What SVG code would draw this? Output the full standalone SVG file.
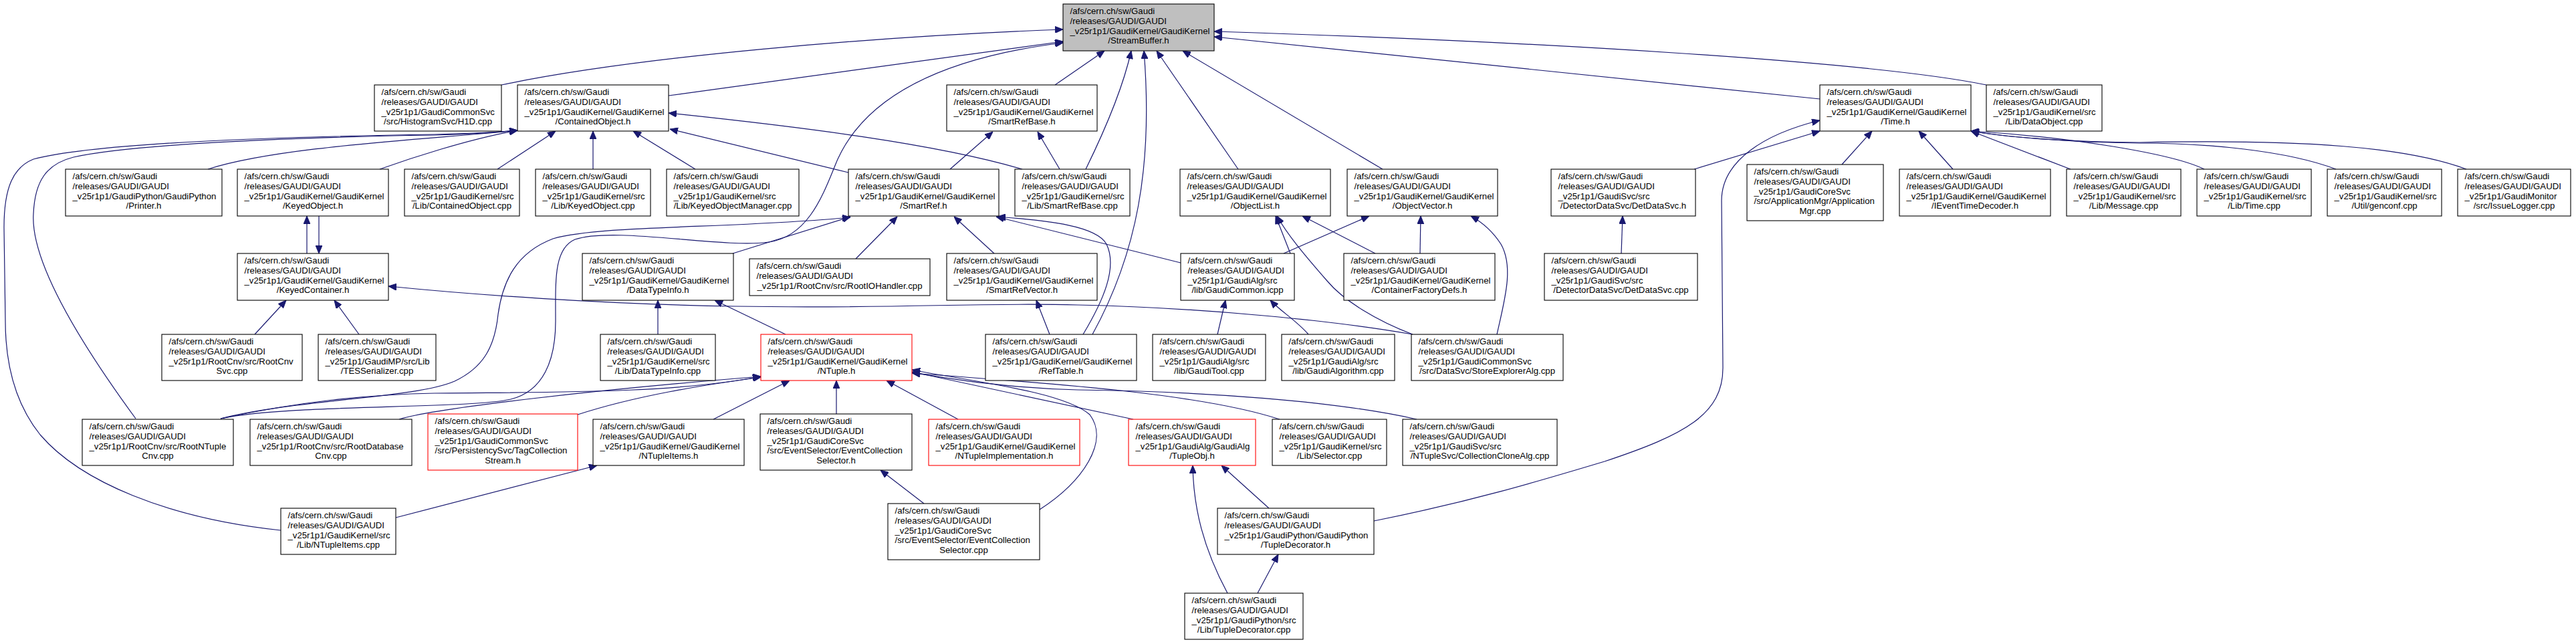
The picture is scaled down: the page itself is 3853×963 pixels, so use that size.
<svg xmlns="http://www.w3.org/2000/svg" width="3853" height="963" viewBox="0 0 3853 963">
<defs>
<style>
.box{fill:#ffffff;stroke:#000000;stroke-width:1.1}
.gray{fill:#bfbfbf}
.red{stroke:#ff0000}
text{font-family:"Liberation Sans",Arial,Helvetica,sans-serif;font-size:13.2px;fill:#000000}
text.c{text-anchor:middle}
.e path{fill:none;stroke:#191970;stroke-width:1.2;marker-end:url(#a)}
</style>
<marker id="a" viewBox="0 0 12 10" markerWidth="12" markerHeight="10" refX="12" refY="5" orient="auto" markerUnits="userSpaceOnUse">
<path d="M0,0L12,5L0,10Z" fill="#191970" stroke="#191970" stroke-width="1"/>
</marker>
</defs>
<rect x="0" y="0" width="3853" height="963" fill="#ffffff"/>

<g id="edges" class="e">
<path d="M750,127 C950,85 1300,55 1590,44"/>
<path d="M1000,143 L1590,62"/>
<path d="M330,626 C430,604 700,612 764,597 C812,585 831,540 831,480 C831,420 828,372 860,358 C920,338 1080,372 1150,362 C1205,354 1228,300 1248,250 C1290,140 1420,85 1590,64"/>
<path d="M1578,127 L1652,76"/>
<path d="M1624,253 C1650,200 1680,130 1692,76"/>
<path d="M1634,500 C1700,380 1725,250 1711,76"/>
<path d="M1852,253 L1730,76"/>
<path d="M2068,253 L1769,76"/>
<path d="M2971,127 C2800,92 2300,62 1816,47"/>
<path d="M2722,148 L1816,55"/>
<path d="M311,253 C420,218 650,208 774,195"/>
<path d="M568,253 C610,238 700,208 774,195"/>
<path d="M203,626 C140,540 45,400 50,320 C52,270 70,245 110,235 C200,215 450,205 650,202 C700,201 740,198 774,195"/>
<path d="M420,793 C250,775 120,720 60,650 C20,600 8,540 8,480 L6,340 C6,280 20,250 50,238 C150,212 450,204 650,201 C700,200 740,198 774,195"/>
<path d="M744,253 L831,196"/>
<path d="M887,253 L887,196"/>
<path d="M1040,253 L947,196"/>
<path d="M1529,253 C1400,215 1200,190 1000,169"/>
<path d="M1269,258 L1002,193"/>
<path d="M1421,253 L1485,197"/>
<path d="M1585,253 L1552,197"/>
<path d="M1096,379 L1272,324"/>
<path d="M330,626 C450,596 620,596 680,570 C722,550 740,520 745,470 C752,420 772,378 827,357 C900,336 1100,342 1272,325"/>
<path d="M1280,387 L1342,324"/>
<path d="M1487,379 L1427,324"/>
<path d="M1766,393 L1490,324"/>
<path d="M1620,500 C1650,450 1672,400 1655,365 C1640,338 1570,330 1492,324"/>
<path d="M1570,500 L1550,449"/>
<path d="M984,500 L984,449"/>
<path d="M1175,500 L1069,449"/>
<path d="M459,379 L459,323"/>
<path d="M477,323 L477,379"/>
<path d="M381,500 L428,449"/>
<path d="M537,500 L500,449"/>
<path d="M2113,500 C2000,480 1800,460 1612,456 C1450,452 1350,462 1100,458 C900,455 700,440 581,428"/>
<path d="M2057,379 L1948,323"/>
<path d="M1930,379 L1908,323"/>
<path d="M2113,500 C2060,480 2010,450 1985,420 C1950,380 1925,350 1910,323"/>
<path d="M1920,379 L2048,323"/>
<path d="M2124,379 L2125,323"/>
<path d="M2239,500 C2250,450 2265,400 2245,365 C2232,345 2218,333 2200,323"/>
<path d="M1821,500 L1833,449"/>
<path d="M1957,500 C1940,480 1915,465 1900,449"/>
<path d="M330,626 C450,600 550,590 650,588 C800,586 1000,590 1138,563"/>
<path d="M597,627 C650,610 900,582 1138,563"/>
<path d="M864,620 C950,592 1050,576 1138,564"/>
<path d="M1067,627 L1181,569"/>
<path d="M1251,619 L1251,569"/>
<path d="M1433,627 L1326,569"/>
<path d="M1555,762 C1620,720 1660,660 1630,620 C1590,585 1450,570 1364,553"/>
<path d="M1695,627 L1364,556"/>
<path d="M1914,627 C1800,590 1600,575 1364,558"/>
<path d="M2119,627 C2000,600 1800,585 1612,583 C1500,580 1420,566 1364,557"/>
<path d="M592,774 L893,696"/>
<path d="M1382,753 L1317,703"/>
<path d="M1836,887 C1800,820 1785,760 1784,696"/>
<path d="M1898,760 L1827,696"/>
<path d="M1881,887 L1912,829"/>
<path d="M2055,779 C2200,750 2300,720 2400,690 C2520,650 2577,620 2577,550 L2575,300 C2575,240 2640,200 2722,180"/>
<path d="M2534,253 L2722,196"/>
<path d="M2755,246 L2800,196"/>
<path d="M2921,253 L2870,196"/>
<path d="M3097,253 L2948,196"/>
<path d="M3297,253 C3250,230 3100,205 2948,196"/>
<path d="M3494,253 C3420,225 3300,214 3200,214 C3100,213 3000,205 2948,196"/>
<path d="M3689,253 C3600,220 3450,208 3200,213 C3100,213 3000,205 2948,196"/>
<path d="M2425,379 L2427,323"/>
</g>

<g id="n_StreamBuffer_h"><rect class="box gray" x="1590" y="6" width="226" height="70"/>
<text x="1600.5" y="21.3">/afs/cern.ch/sw/Gaudi</text><text x="1600.5" y="36">/releases/GAUDI/GAUDI</text><text x="1600.5" y="50.7">_v25r1p1/GaudiKernel/GaudiKernel</text><text class="c" x="1703" y="65.4">/StreamBuffer.h</text></g>

<g id="n_H1D_cpp"><rect class="box" x="560" y="127" width="190" height="69"/>
<text x="570.5" y="142.3">/afs/cern.ch/sw/Gaudi</text><text x="570.5" y="157">/releases/GAUDI/GAUDI</text><text x="570.5" y="171.7">_v25r1p1/GaudiCommonSvc</text><text class="c" x="655" y="186.4">/src/HistogramSvc/H1D.cpp</text></g>

<g id="n_ContainedObject_h"><rect class="box" x="774" y="127" width="226" height="69"/>
<text x="784.5" y="142.3">/afs/cern.ch/sw/Gaudi</text><text x="784.5" y="157">/releases/GAUDI/GAUDI</text><text x="784.5" y="171.7">_v25r1p1/GaudiKernel/GaudiKernel</text><text class="c" x="887" y="186.4">/ContainedObject.h</text></g>

<g id="n_SmartRefBase_h"><rect class="box" x="1416" y="127" width="225" height="69"/>
<text x="1426.5" y="142.3">/afs/cern.ch/sw/Gaudi</text><text x="1426.5" y="157">/releases/GAUDI/GAUDI</text><text x="1426.5" y="171.7">_v25r1p1/GaudiKernel/GaudiKernel</text><text class="c" x="1528.5" y="186.4">/SmartRefBase.h</text></g>

<g id="n_Time_h"><rect class="box" x="2722" y="127" width="226" height="69"/>
<text x="2732.5" y="142.3">/afs/cern.ch/sw/Gaudi</text><text x="2732.5" y="157">/releases/GAUDI/GAUDI</text><text x="2732.5" y="171.7">_v25r1p1/GaudiKernel/GaudiKernel</text><text class="c" x="2835" y="186.4">/Time.h</text></g>

<g id="n_DataObject_cpp"><rect class="box" x="2971" y="127" width="173" height="69"/>
<text x="2981.5" y="142.3">/afs/cern.ch/sw/Gaudi</text><text x="2981.5" y="157">/releases/GAUDI/GAUDI</text><text x="2981.5" y="171.7">_v25r1p1/GaudiKernel/src</text><text class="c" x="3057.5" y="186.4">/Lib/DataObject.cpp</text></g>

<g id="n_Printer_h"><rect class="box" x="98" y="253" width="234" height="70"/>
<text x="108.5" y="268.3">/afs/cern.ch/sw/Gaudi</text><text x="108.5" y="283">/releases/GAUDI/GAUDI</text><text x="108.5" y="297.7">_v25r1p1/GaudiPython/GaudiPython</text><text class="c" x="215" y="312.4">/Printer.h</text></g>

<g id="n_KeyedObject_h"><rect class="box" x="355" y="253" width="226" height="70"/>
<text x="365.5" y="268.3">/afs/cern.ch/sw/Gaudi</text><text x="365.5" y="283">/releases/GAUDI/GAUDI</text><text x="365.5" y="297.7">_v25r1p1/GaudiKernel/GaudiKernel</text><text class="c" x="468" y="312.4">/KeyedObject.h</text></g>

<g id="n_ContainedObject_cpp"><rect class="box" x="605" y="253" width="172" height="70"/>
<text x="615.5" y="268.3">/afs/cern.ch/sw/Gaudi</text><text x="615.5" y="283">/releases/GAUDI/GAUDI</text><text x="615.5" y="297.7">_v25r1p1/GaudiKernel/src</text><text class="c" x="691" y="312.4">/Lib/ContainedObject.cpp</text></g>

<g id="n_KeyedObject_cpp"><rect class="box" x="801" y="253" width="172" height="70"/>
<text x="811.5" y="268.3">/afs/cern.ch/sw/Gaudi</text><text x="811.5" y="283">/releases/GAUDI/GAUDI</text><text x="811.5" y="297.7">_v25r1p1/GaudiKernel/src</text><text class="c" x="887" y="312.4">/Lib/KeyedObject.cpp</text></g>

<g id="n_KeyedObjectManager_cpp"><rect class="box" x="997" y="253" width="198" height="70"/>
<text x="1007.5" y="268.3">/afs/cern.ch/sw/Gaudi</text><text x="1007.5" y="283">/releases/GAUDI/GAUDI</text><text x="1007.5" y="297.7">_v25r1p1/GaudiKernel/src</text><text class="c" x="1096" y="312.4">/Lib/KeyedObjectManager.cpp</text></g>

<g id="n_SmartRef_h"><rect class="box" x="1269" y="253" width="225" height="70"/>
<text x="1279.5" y="268.3">/afs/cern.ch/sw/Gaudi</text><text x="1279.5" y="283">/releases/GAUDI/GAUDI</text><text x="1279.5" y="297.7">_v25r1p1/GaudiKernel/GaudiKernel</text><text class="c" x="1381.5" y="312.4">/SmartRef.h</text></g>

<g id="n_SmartRefBase_cpp"><rect class="box" x="1518" y="253" width="172" height="70"/>
<text x="1528.5" y="268.3">/afs/cern.ch/sw/Gaudi</text><text x="1528.5" y="283">/releases/GAUDI/GAUDI</text><text x="1528.5" y="297.7">_v25r1p1/GaudiKernel/src</text><text class="c" x="1604" y="312.4">/Lib/SmartRefBase.cpp</text></g>

<g id="n_ObjectList_h"><rect class="box" x="1765" y="253" width="225" height="70"/>
<text x="1775.5" y="268.3">/afs/cern.ch/sw/Gaudi</text><text x="1775.5" y="283">/releases/GAUDI/GAUDI</text><text x="1775.5" y="297.7">_v25r1p1/GaudiKernel/GaudiKernel</text><text class="c" x="1877.5" y="312.4">/ObjectList.h</text></g>

<g id="n_ObjectVector_h"><rect class="box" x="2015" y="253" width="225" height="70"/>
<text x="2025.5" y="268.3">/afs/cern.ch/sw/Gaudi</text><text x="2025.5" y="283">/releases/GAUDI/GAUDI</text><text x="2025.5" y="297.7">_v25r1p1/GaudiKernel/GaudiKernel</text><text class="c" x="2127.5" y="312.4">/ObjectVector.h</text></g>

<g id="n_DetDataSvc_h"><rect class="box" x="2320" y="253" width="216" height="70"/>
<text x="2330.5" y="268.3">/afs/cern.ch/sw/Gaudi</text><text x="2330.5" y="283">/releases/GAUDI/GAUDI</text><text x="2330.5" y="297.7">_v25r1p1/GaudiSvc/src</text><text class="c" x="2428" y="312.4">/DetectorDataSvc/DetDataSvc.h</text></g>

<g id="n_ApplicationMgr_cpp"><rect class="box" x="2613" y="246" width="204" height="84"/>
<text x="2623.5" y="261.3">/afs/cern.ch/sw/Gaudi</text><text x="2623.5" y="276">/releases/GAUDI/GAUDI</text><text x="2623.5" y="290.7">_v25r1p1/GaudiCoreSvc</text><text x="2623.5" y="305.4">/src/ApplicationMgr/Application</text><text class="c" x="2715" y="320.1">Mgr.cpp</text></g>

<g id="n_IEventTimeDecoder_h"><rect class="box" x="2841" y="253" width="226" height="70"/>
<text x="2851.5" y="268.3">/afs/cern.ch/sw/Gaudi</text><text x="2851.5" y="283">/releases/GAUDI/GAUDI</text><text x="2851.5" y="297.7">_v25r1p1/GaudiKernel/GaudiKernel</text><text class="c" x="2954" y="312.4">/IEventTimeDecoder.h</text></g>

<g id="n_Message_cpp"><rect class="box" x="3091" y="253" width="171" height="70"/>
<text x="3101.5" y="268.3">/afs/cern.ch/sw/Gaudi</text><text x="3101.5" y="283">/releases/GAUDI/GAUDI</text><text x="3101.5" y="297.7">_v25r1p1/GaudiKernel/src</text><text class="c" x="3176.5" y="312.4">/Lib/Message.cpp</text></g>

<g id="n_Time_cpp"><rect class="box" x="3286" y="253" width="171" height="70"/>
<text x="3296.5" y="268.3">/afs/cern.ch/sw/Gaudi</text><text x="3296.5" y="283">/releases/GAUDI/GAUDI</text><text x="3296.5" y="297.7">_v25r1p1/GaudiKernel/src</text><text class="c" x="3371.5" y="312.4">/Lib/Time.cpp</text></g>

<g id="n_genconf_cpp"><rect class="box" x="3481" y="253" width="171" height="70"/>
<text x="3491.5" y="268.3">/afs/cern.ch/sw/Gaudi</text><text x="3491.5" y="283">/releases/GAUDI/GAUDI</text><text x="3491.5" y="297.7">_v25r1p1/GaudiKernel/src</text><text class="c" x="3566.5" y="312.4">/Util/genconf.cpp</text></g>

<g id="n_IssueLogger_cpp"><rect class="box" x="3676" y="253" width="169" height="70"/>
<text x="3686.5" y="268.3">/afs/cern.ch/sw/Gaudi</text><text x="3686.5" y="283">/releases/GAUDI/GAUDI</text><text x="3686.5" y="297.7">_v25r1p1/GaudiMonitor</text><text class="c" x="3760.5" y="312.4">/src/IssueLogger.cpp</text></g>

<g id="n_KeyedContainer_h"><rect class="box" x="355" y="379" width="226" height="70"/>
<text x="365.5" y="394.3">/afs/cern.ch/sw/Gaudi</text><text x="365.5" y="409">/releases/GAUDI/GAUDI</text><text x="365.5" y="423.7">_v25r1p1/GaudiKernel/GaudiKernel</text><text class="c" x="468" y="438.4">/KeyedContainer.h</text></g>

<g id="n_DataTypeInfo_h"><rect class="box" x="871" y="379" width="226" height="70"/>
<text x="881.5" y="394.3">/afs/cern.ch/sw/Gaudi</text><text x="881.5" y="409">/releases/GAUDI/GAUDI</text><text x="881.5" y="423.7">_v25r1p1/GaudiKernel/GaudiKernel</text><text class="c" x="984" y="438.4">/DataTypeInfo.h</text></g>

<g id="n_RootIOHandler_cpp"><rect class="box" x="1121" y="387" width="270" height="55"/>
<text x="1131.5" y="402.3">/afs/cern.ch/sw/Gaudi</text><text x="1131.5" y="417">/releases/GAUDI/GAUDI</text><text class="c" x="1256" y="431.7">_v25r1p1/RootCnv/src/RootIOHandler.cpp</text></g>

<g id="n_SmartRefVector_h"><rect class="box" x="1416" y="379" width="225" height="70"/>
<text x="1426.5" y="394.3">/afs/cern.ch/sw/Gaudi</text><text x="1426.5" y="409">/releases/GAUDI/GAUDI</text><text x="1426.5" y="423.7">_v25r1p1/GaudiKernel/GaudiKernel</text><text class="c" x="1528.5" y="438.4">/SmartRefVector.h</text></g>

<g id="n_GaudiCommon_icpp"><rect class="box" x="1766" y="379" width="170" height="70"/>
<text x="1776.5" y="394.3">/afs/cern.ch/sw/Gaudi</text><text x="1776.5" y="409">/releases/GAUDI/GAUDI</text><text x="1776.5" y="423.7">_v25r1p1/GaudiAlg/src</text><text class="c" x="1851" y="438.4">/lib/GaudiCommon.icpp</text></g>

<g id="n_ContainerFactoryDefs_h"><rect class="box" x="2010" y="379" width="226" height="70"/>
<text x="2020.5" y="394.3">/afs/cern.ch/sw/Gaudi</text><text x="2020.5" y="409">/releases/GAUDI/GAUDI</text><text x="2020.5" y="423.7">_v25r1p1/GaudiKernel/GaudiKernel</text><text class="c" x="2123" y="438.4">/ContainerFactoryDefs.h</text></g>

<g id="n_DetDataSvc_cpp"><rect class="box" x="2310" y="379" width="229" height="70"/>
<text x="2320.5" y="394.3">/afs/cern.ch/sw/Gaudi</text><text x="2320.5" y="409">/releases/GAUDI/GAUDI</text><text x="2320.5" y="423.7">_v25r1p1/GaudiSvc/src</text><text class="c" x="2424.5" y="438.4">/DetectorDataSvc/DetDataSvc.cpp</text></g>

<g id="n_RootCnvSvc_cpp"><rect class="box" x="242" y="500" width="210" height="69"/>
<text x="252.5" y="515.3">/afs/cern.ch/sw/Gaudi</text><text x="252.5" y="530">/releases/GAUDI/GAUDI</text><text x="252.5" y="544.7">_v25r1p1/RootCnv/src/RootCnv</text><text class="c" x="347" y="559.4">Svc.cpp</text></g>

<g id="n_TESSerializer_cpp"><rect class="box" x="476" y="500" width="176" height="69"/>
<text x="486.5" y="515.3">/afs/cern.ch/sw/Gaudi</text><text x="486.5" y="530">/releases/GAUDI/GAUDI</text><text x="486.5" y="544.7">_v25r1p1/GaudiMP/src/Lib</text><text class="c" x="564" y="559.4">/TESSerializer.cpp</text></g>

<g id="n_DataTypeInfo_cpp"><rect class="box" x="898" y="500" width="172" height="69"/>
<text x="908.5" y="515.3">/afs/cern.ch/sw/Gaudi</text><text x="908.5" y="530">/releases/GAUDI/GAUDI</text><text x="908.5" y="544.7">_v25r1p1/GaudiKernel/src</text><text class="c" x="984" y="559.4">/Lib/DataTypeInfo.cpp</text></g>

<g id="n_NTuple_h"><rect class="box red" x="1138" y="500" width="226" height="69"/>
<text x="1148.5" y="515.3">/afs/cern.ch/sw/Gaudi</text><text x="1148.5" y="530">/releases/GAUDI/GAUDI</text><text x="1148.5" y="544.7">_v25r1p1/GaudiKernel/GaudiKernel</text><text class="c" x="1251" y="559.4">/NTuple.h</text></g>

<g id="n_RefTable_h"><rect class="box" x="1474" y="500" width="226" height="69"/>
<text x="1484.5" y="515.3">/afs/cern.ch/sw/Gaudi</text><text x="1484.5" y="530">/releases/GAUDI/GAUDI</text><text x="1484.5" y="544.7">_v25r1p1/GaudiKernel/GaudiKernel</text><text class="c" x="1587" y="559.4">/RefTable.h</text></g>

<g id="n_GaudiTool_cpp"><rect class="box" x="1724" y="500" width="169" height="69"/>
<text x="1734.5" y="515.3">/afs/cern.ch/sw/Gaudi</text><text x="1734.5" y="530">/releases/GAUDI/GAUDI</text><text x="1734.5" y="544.7">_v25r1p1/GaudiAlg/src</text><text class="c" x="1808.5" y="559.4">/lib/GaudiTool.cpp</text></g>

<g id="n_GaudiAlgorithm_cpp"><rect class="box" x="1917" y="500" width="169" height="69"/>
<text x="1927.5" y="515.3">/afs/cern.ch/sw/Gaudi</text><text x="1927.5" y="530">/releases/GAUDI/GAUDI</text><text x="1927.5" y="544.7">_v25r1p1/GaudiAlg/src</text><text class="c" x="2001.5" y="559.4">/lib/GaudiAlgorithm.cpp</text></g>

<g id="n_StoreExplorerAlg_cpp"><rect class="box" x="2111" y="500" width="227" height="69"/>
<text x="2121.5" y="515.3">/afs/cern.ch/sw/Gaudi</text><text x="2121.5" y="530">/releases/GAUDI/GAUDI</text><text x="2121.5" y="544.7">_v25r1p1/GaudiCommonSvc</text><text class="c" x="2224.5" y="559.4">/src/DataSvc/StoreExplorerAlg.cpp</text></g>

<g id="n_RootNTupleCnv_cpp"><rect class="box" x="123" y="627" width="226" height="69"/>
<text x="133.5" y="642.3">/afs/cern.ch/sw/Gaudi</text><text x="133.5" y="657">/releases/GAUDI/GAUDI</text><text x="133.5" y="671.7">_v25r1p1/RootCnv/src/RootNTuple</text><text class="c" x="236" y="686.4">Cnv.cpp</text></g>

<g id="n_RootDatabaseCnv_cpp"><rect class="box" x="374" y="627" width="242" height="69"/>
<text x="384.5" y="642.3">/afs/cern.ch/sw/Gaudi</text><text x="384.5" y="657">/releases/GAUDI/GAUDI</text><text x="384.5" y="671.7">_v25r1p1/RootCnv/src/RootDatabase</text><text class="c" x="495" y="686.4">Cnv.cpp</text></g>

<g id="n_TagCollectionStream_h"><rect class="box red" x="640" y="619" width="224" height="84"/>
<text x="650.5" y="634.3">/afs/cern.ch/sw/Gaudi</text><text x="650.5" y="649">/releases/GAUDI/GAUDI</text><text x="650.5" y="663.7">_v25r1p1/GaudiCommonSvc</text><text x="650.5" y="678.4">/src/PersistencySvc/TagCollection</text><text class="c" x="752" y="693.1">Stream.h</text></g>

<g id="n_NTupleItems_h"><rect class="box" x="887" y="627" width="226" height="69"/>
<text x="897.5" y="642.3">/afs/cern.ch/sw/Gaudi</text><text x="897.5" y="657">/releases/GAUDI/GAUDI</text><text x="897.5" y="671.7">_v25r1p1/GaudiKernel/GaudiKernel</text><text class="c" x="1000" y="686.4">/NTupleItems.h</text></g>

<g id="n_EventCollectionSelector_h"><rect class="box" x="1137" y="619" width="227" height="84"/>
<text x="1147.5" y="634.3">/afs/cern.ch/sw/Gaudi</text><text x="1147.5" y="649">/releases/GAUDI/GAUDI</text><text x="1147.5" y="663.7">_v25r1p1/GaudiCoreSvc</text><text x="1147.5" y="678.4">/src/EventSelector/EventCollection</text><text class="c" x="1250.5" y="693.1">Selector.h</text></g>

<g id="n_NTupleImplementation_h"><rect class="box red" x="1389" y="627" width="226" height="69"/>
<text x="1399.5" y="642.3">/afs/cern.ch/sw/Gaudi</text><text x="1399.5" y="657">/releases/GAUDI/GAUDI</text><text x="1399.5" y="671.7">_v25r1p1/GaudiKernel/GaudiKernel</text><text class="c" x="1502" y="686.4">/NTupleImplementation.h</text></g>

<g id="n_TupleObj_h"><rect class="box red" x="1688" y="627" width="190" height="69"/>
<text x="1698.5" y="642.3">/afs/cern.ch/sw/Gaudi</text><text x="1698.5" y="657">/releases/GAUDI/GAUDI</text><text x="1698.5" y="671.7">_v25r1p1/GaudiAlg/GaudiAlg</text><text class="c" x="1783" y="686.4">/TupleObj.h</text></g>

<g id="n_Selector_cpp"><rect class="box" x="1903" y="627" width="171" height="69"/>
<text x="1913.5" y="642.3">/afs/cern.ch/sw/Gaudi</text><text x="1913.5" y="657">/releases/GAUDI/GAUDI</text><text x="1913.5" y="671.7">_v25r1p1/GaudiKernel/src</text><text class="c" x="1988.5" y="686.4">/Lib/Selector.cpp</text></g>

<g id="n_CollectionCloneAlg_cpp"><rect class="box" x="2098" y="627" width="231" height="69"/>
<text x="2108.5" y="642.3">/afs/cern.ch/sw/Gaudi</text><text x="2108.5" y="657">/releases/GAUDI/GAUDI</text><text x="2108.5" y="671.7">_v25r1p1/GaudiSvc/src</text><text class="c" x="2213.5" y="686.4">/NTupleSvc/CollectionCloneAlg.cpp</text></g>

<g id="n_NTupleItems_cpp"><rect class="box" x="420" y="760" width="172" height="69"/>
<text x="430.5" y="775.3">/afs/cern.ch/sw/Gaudi</text><text x="430.5" y="790">/releases/GAUDI/GAUDI</text><text x="430.5" y="804.7">_v25r1p1/GaudiKernel/src</text><text class="c" x="506" y="819.4">/Lib/NTupleItems.cpp</text></g>

<g id="n_EventCollectionSelector_cpp"><rect class="box" x="1328" y="753" width="227" height="84"/>
<text x="1338.5" y="768.3">/afs/cern.ch/sw/Gaudi</text><text x="1338.5" y="783">/releases/GAUDI/GAUDI</text><text x="1338.5" y="797.7">_v25r1p1/GaudiCoreSvc</text><text x="1338.5" y="812.4">/src/EventSelector/EventCollection</text><text class="c" x="1441.5" y="827.1">Selector.cpp</text></g>

<g id="n_TupleDecorator_h"><rect class="box" x="1821" y="760" width="234" height="69"/>
<text x="1831.5" y="775.3">/afs/cern.ch/sw/Gaudi</text><text x="1831.5" y="790">/releases/GAUDI/GAUDI</text><text x="1831.5" y="804.7">_v25r1p1/GaudiPython/GaudiPython</text><text class="c" x="1938" y="819.4">/TupleDecorator.h</text></g>

<g id="n_TupleDecorator_cpp"><rect class="box" x="1772" y="887" width="177" height="69"/>
<text x="1782.5" y="902.3">/afs/cern.ch/sw/Gaudi</text><text x="1782.5" y="917">/releases/GAUDI/GAUDI</text><text x="1782.5" y="931.7">_v25r1p1/GaudiPython/src</text><text class="c" x="1860.5" y="946.4">/Lib/TupleDecorator.cpp</text></g>
</svg>
